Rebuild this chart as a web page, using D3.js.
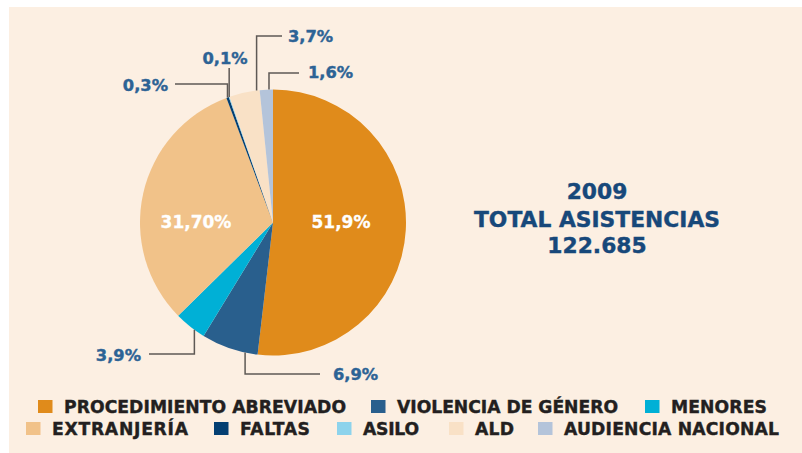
<!DOCTYPE html>
<html><head><meta charset="utf-8">
<script src="https://cdn.jsdelivr.net/npm/d3@7"></script>
<style>html,body{margin:0;padding:0;background:#fff;}svg{display:block;}</style>
</head><body>
<svg id="chart" width="802" height="453"></svg>
<script>
// ---- data ----
const categories = ["PROCEDIMIENTO ABREVIADO","VIOLENCIA DE GÉNERO","MENORES","EXTRANJERÍA","FALTAS","ASILO","ALD","AUDIENCIA NACIONAL"];
const values = [51.9, 6.9, 3.9, 31.7, 0.3, 0.1, 3.7, 1.6];
const valueLabels = ["51,9%","6,9%","3,9%","31,70%","0,3%","0,1%","3,7%","1,6%"];
const colors = ["#e08b1b","#295f8d","#00b0d6","#f1c289","#043f72","#8dd3ec","#f9e1c6","#b4c4da"];
const titleLines = ["2009","TOTAL ASISTENCIAS","122.685"];

// ---- layout ----
const W = 802, H = 453;
const cx = 273, cy = 222.5, R = 133;
const insideLabels = [{i:0, x:341, y:228}, {i:3, x:196, y:228}];
const outsideLabels = [
  {i:1, t:0.22, ly:374, hx:320, tx:333, ty:380, anchor:"start"},
  {i:2, t:0.34, ly:354, hx:149, tx:141, ty:361, anchor:"end"},
  {i:4, t:0.45, ly:84,  hx:175, tx:168, ty:91,  anchor:"end"},
  {i:5, t:0.5,  ly:68,  hx:null, tx:225, ty:64, anchor:"middle"},
  {i:6, t:0.9,  ly:36,  hx:282, tx:288, ty:42,  anchor:"start"},
  {i:7, t:0.7,  ly:73,  hx:299, tx:308, ty:78,  anchor:"start"}
];
const legendLayout = [
  {i:0, x:38,  y:400, w:282},
  {i:1, x:371, y:400, w:221},
  {i:2, x:645, y:400, w:96},
  {i:3, x:26,  y:422, w:136},
  {i:4, x:214, y:422, w:70},
  {i:5, x:337, y:422, w:56},
  {i:6, x:449, y:422, w:39},
  {i:7, x:538, y:422, w:215}
];

const svg = d3.select("#chart");
svg.append("rect").attr("x",9).attr("y",7).attr("width",W-9).attr("height",H-7).attr("fill","#fcefe2");

const pie = d3.pie().sort(null).value(d=>d);
const arcs = pie(values);
const arc = d3.arc().innerRadius(0).outerRadius(R);

const g = svg.append("g").attr("transform",`translate(${cx},${cy})`);
g.selectAll("path").data(arcs).join("path")
  .attr("d",arc).attr("fill",(d,i)=>colors[i]);

insideLabels.forEach(l=>{
  svg.append("text").attr("x",l.x).attr("y",l.y).attr("text-anchor","middle")
    .attr("font-family","DejaVu Sans").attr("font-weight","bold").attr("font-size",17)
    .attr("fill","#fff").attr("stroke","#fff").attr("stroke-width",0.3).text(valueLabels[l.i]);
});

outsideLabels.forEach(l=>{
  const a = arcs[l.i];
  const ang = a.startAngle + l.t*(a.endAngle-a.startAngle);
  const ax = cx + R*Math.sin(ang), ay = cy - R*Math.cos(ang);
  const p = d3.path();
  p.moveTo(ax, ay);
  p.lineTo(ax, l.ly);
  if (l.hx !== null) p.lineTo(l.hx, l.ly);
  svg.append("path").attr("d",p.toString()).attr("fill","none")
    .attr("stroke","#5e5955").attr("stroke-width",1.5);
  svg.append("text").attr("x",l.tx).attr("y",l.ty).attr("text-anchor",l.anchor)
    .attr("font-family","DejaVu Sans").attr("font-weight","bold").attr("font-size",16.3)
    .attr("fill","#2d6395").attr("stroke","#2d6395").attr("stroke-width",0.4).text(valueLabels[l.i]);
});

const titleY = [199, 227, 253];
titleLines.forEach((t,k)=>{
  svg.append("text").attr("x",597).attr("y",titleY[k]).attr("text-anchor","middle")
    .attr("font-family","DejaVu Sans").attr("font-weight","bold").attr("font-size",21.8)
    .attr("fill","#17487a").attr("stroke","#17487a").attr("stroke-width",0.4).text(t);
});

legendLayout.forEach(l=>{
  svg.append("rect").attr("x",l.x).attr("y",l.y).attr("width",14.5).attr("height",13)
    .attr("fill",colors[l.i]);
  svg.append("text").attr("x",l.x+26).attr("y",l.y+13)
    .attr("font-family","DejaVu Sans").attr("font-weight","bold").attr("font-size",17.2)
    .attr("textLength",l.w).attr("lengthAdjust","spacing")
    .attr("fill","#231f20").attr("stroke","#231f20").attr("stroke-width",0.4).text(categories[l.i]);
});
</script>
</body></html>
